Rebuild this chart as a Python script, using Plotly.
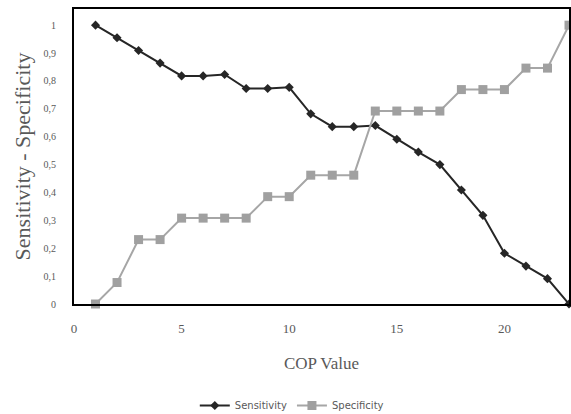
import plotly.graph_objects as go

cop = list(range(1, 24))
sensitivity = [1, 0.955, 0.909, 0.864, 0.818, 0.818, 0.823, 0.773, 0.773, 0.777, 0.682, 0.636, 0.636, 0.64,
               0.591, 0.545, 0.5, 0.409, 0.318, 0.182, 0.136, 0.091, 0]
specificity = [0, 0.077, 0.231, 0.231, 0.308, 0.308, 0.308, 0.308, 0.385, 0.385, 0.462, 0.462, 0.462, 0.692,
               0.692, 0.692, 0.692, 0.769, 0.769, 0.769, 0.846, 0.846, 1]
x_ticks = [0, 5, 10, 15, 20]
y_ticks = [0, 0.1, 0.2, 0.3, 0.4, 0.5, 0.6, 0.7, 0.8, 0.9, 1]

font = "Liberation Serif"

fig = go.Figure()
fig.add_trace(go.Scatter(x=cop, y=sensitivity, name="Sensitivity", mode="lines+markers",
                         line=dict(color="#262626", width=2),
                         marker=dict(symbol="diamond", size=7, color="#262626"),
                         cliponaxis=False))
fig.add_trace(go.Scatter(x=cop, y=specificity, name="Specificity", mode="lines+markers",
                         line=dict(color="#a6a6a6", width=2),
                         marker=dict(symbol="square", size=9, color="#a0a0a0"),
                         cliponaxis=False))

fig.update_layout(
    width=571, height=414,
    margin=dict(l=74, r=2, t=9, b=110, autoexpand=False),
    paper_bgcolor="white", plot_bgcolor="white",
    separators=", ",
    font=dict(family=font, size=10, color="#595959"),
    showlegend=True,
    legend=dict(orientation="h", x=0.44, xanchor="center", y=-0.295, yanchor="top",
                font=dict(family="DejaVu Sans", size=10, color="#595959"),
                itemwidth=30),
)
fig.update_xaxes(range=[0, 23], tickvals=x_ticks, showgrid=False, zeroline=False,
                 showline=True, linecolor="black", linewidth=2, mirror=True, automargin=False,
                 ticks="", ticklabelstandoff=11, tickfont=dict(size=13),
                 title=dict(text="COP Value", font=dict(size=17), standoff=23))
fig.update_yaxes(range=[0, 1.058], tickvals=y_ticks, showgrid=False, zeroline=False,
                 showline=True, linecolor="black", linewidth=2, mirror=True, automargin=False,
                 ticks="", ticklabelstandoff=14, tickfont=dict(size=10),
                 title=dict(text="Sensitivity - Specificity", font=dict(size=22), standoff=7))

fig.write_html("out.html", config={"displayModeBar": False},
               post_script="document.body.style.margin='0';document.body.style.overflow='hidden';")
